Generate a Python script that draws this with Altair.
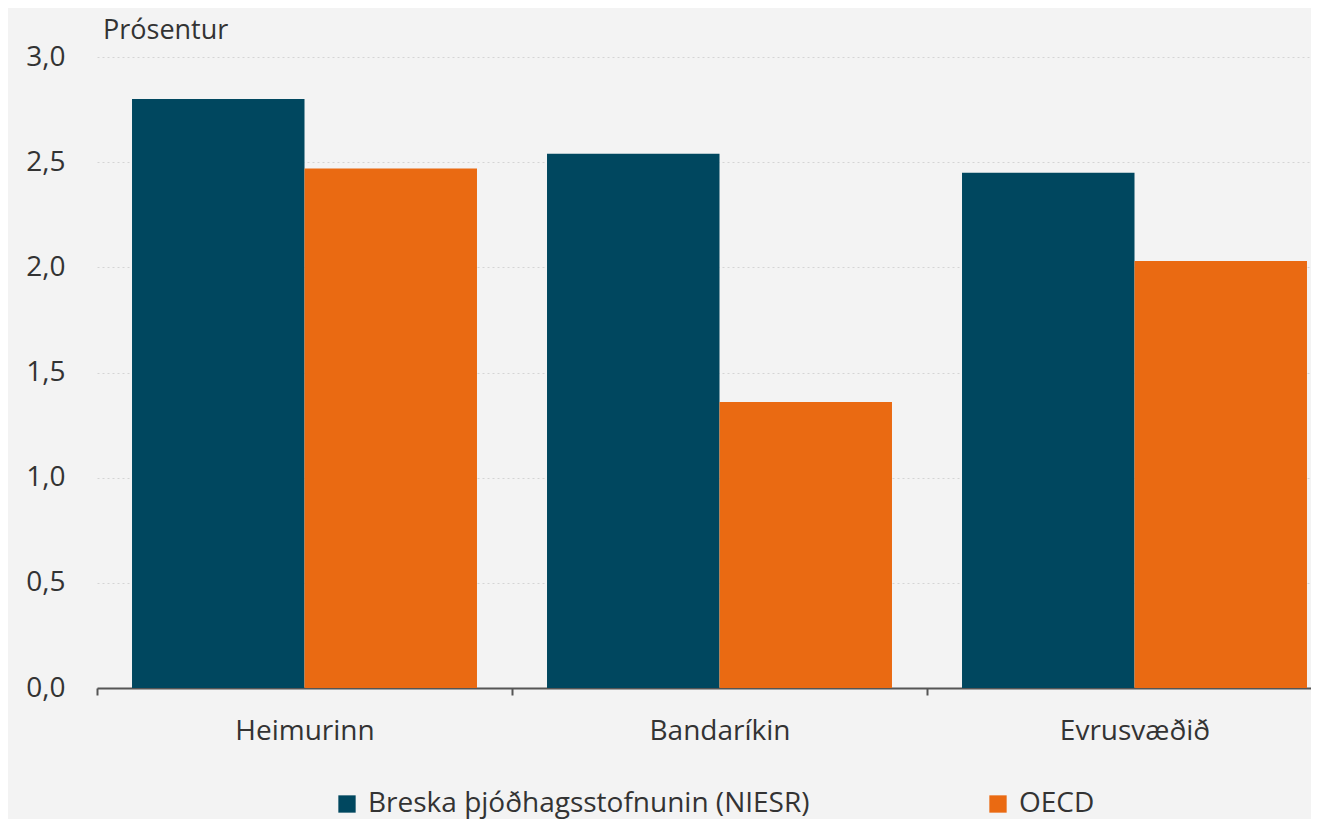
import altair as alt
import pandas as pd

regions = ["Heimurinn", "Bandaríkin", "Evrusvæðið"]
series = ["Breska þjóðhagsstofnunin (NIESR)", "OECD"]
niesr = [2.80, 2.54, 2.45]
oecd = [2.47, 1.36, 2.03]
colors = ["#00475f", "#ea6a12"]

rows = []
for r, a, b in zip(regions, niesr, oecd):
    rows.append({"region": r, "series": series[0], "value": a})
    rows.append({"region": r, "series": series[1], "value": b})
df = pd.DataFrame(rows)

FONT = "Open Sans"

chart = alt.Chart(df).mark_bar().encode(
    x=alt.X(
        "region:N",
        sort=regions,
        title=None,
        scale=alt.Scale(range=[0, 1245], paddingInner=0, paddingOuter=0),
        axis=alt.Axis(
            labelAngle=0,
            labelFontSize=28,
            labelColor="#333333",
            labelFont=FONT,
            labelPadding=22,
            domainColor="#555555",
            domainWidth=2,
            tickColor="#555555",
            tickWidth=2,
            tickSize=7,
            tickBand="extent",
            grid=False,
        ),
    ),
    xOffset=alt.XOffset(
        "series:N", sort=series, scale=alt.Scale(paddingInner=0, paddingOuter=0.203)
    ),
    y=alt.Y(
        "value:Q",
        title=None,
        scale=alt.Scale(domain=[0, 3], nice=False),
        axis=alt.Axis(
            values=[0, 0.5, 1, 1.5, 2, 2.5, 3],
            labelExpr="replace(format(datum.value, '.1f'), '.', ',')",
            labelFontSize=28,
            labelColor="#333333",
            labelFont=FONT,
            labelPadding=32,
            domain=False,
            ticks=False,
            grid=True,
            gridColor="#d4d4d4",
            gridDash=[2, 3],
            gridWidth=1,
        ),
    ),
    color=alt.Color(
        "series:N",
        sort=series,
        scale=alt.Scale(domain=series, range=colors),
        legend=alt.Legend(
            title=None,
            orient="none",
            direction="horizontal",
            legendX=236,
            legendY=733,
            columns=2,
            columnPadding=174,
            symbolType="square",
            symbolSize=300,
            symbolStrokeWidth=0,
            labelFontSize=28,
            labelFont=FONT,
            labelColor="#333333",
            labelOffset=7,
            labelLimit=0,
        ),
    ),
).properties(
    width=1214,
    height=631,
    title=alt.TitleParams(
        "Prósentur",
        anchor="start",
        frame="group",
        fontSize=27,
        font=FONT,
        fontWeight="normal",
        color="#333333",
        offset=2,
        dx=6,
        dy=4,
    ),
    background="#f3f3f3",
    padding={"left": 89, "top": 49, "right": 0, "bottom": 131},
    autosize=alt.AutoSizeParams(type="none"),
).configure_view(stroke=None)

chart.save("out.html", embed_options={"renderer": "svg", "actions": False})
